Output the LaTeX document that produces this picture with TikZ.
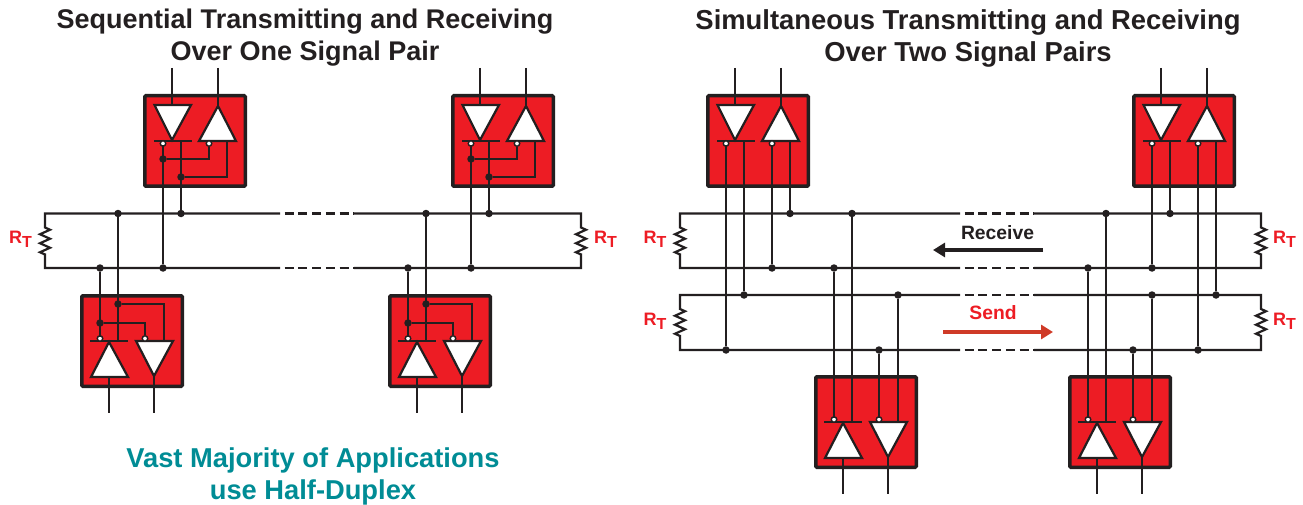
\documentclass[tikz,border=0pt]{standalone}
\usepackage{fontspec}
\setmainfont{Liberation Sans}
\usepackage{xcolor}
\usetikzlibrary{decorations.pathmorphing,arrows.meta}
\definecolor{inkblack}{HTML}{231F20}
\definecolor{boxred}{HTML}{ED1C24}
\definecolor{sendred}{HTML}{CF3A27}
\definecolor{noteteal}{HTML}{008C95}
\newcommand{\rterm}{R\raisebox{-4pt}{\fontsize{16}{16}\selectfont T}}
\tikzset{
    wire/.style={draw=inkblack,line width=2.2pt},
    busgap/.style={wire,dash pattern=on 9pt off 4.7pt,dash phase=9pt},
    xcvrbox/.style={draw=inkblack,fill=boxred,line width=3.5pt,rounded corners=1pt,minimum width=100.5pt,minimum height=90.5pt,inner sep=0pt},
    amp/.style={draw=inkblack,fill=white,line width=2.2pt,line join=miter},
    bubble/.style={draw=inkblack,fill=white,line width=1.4pt,circle,inner sep=0pt,minimum size=5.5pt},
    dot/.style={fill=inkblack,circle,inner sep=0pt,minimum size=7.5pt},
    resistor/.style={decoration={zigzag,segment length=9pt,amplitude=5pt}},
    title/.style={font=\bfseries\fontsize{27.4}{32}\selectfont,text=inkblack,align=center},
    note/.style={font=\bfseries\fontsize{27.3}{32}\selectfont,text=noteteal,align=center},
    rlabel/.style={font=\bfseries\fontsize{18}{20}\selectfont,text=boxred},
    flowlabel/.style={font=\bfseries\fontsize{19.3}{22}\selectfont},
    % pair with the bar at the bottom, lines leave upwards
    topxcvr/.pic={
        \node[xcvrbox] (-box) at (51,46) {};
        \draw[wire] (28,-27) -- (28,10);
        \draw[wire] (74,-27) -- (74,11);
        \draw[amp] (10.5,10) -- (47,10) -- (28,45) -- cycle;
        \draw[amp] (74,11) -- (55,46) -- (92,46) -- cycle;
        \draw[wire] (10,46) -- (48,46);
        \node[bubble] (-inva) at (19,48.5) {};
        \node[bubble] (-invb) at (65,48.5) {};
        \coordinate (-a) at (19,50.5);
        \coordinate (-b) at (37,46);
        \coordinate (-c) at (65,50.5);
        \coordinate (-d) at (83,46);
        \coordinate (-e) at (19,64);
        \coordinate (-f) at (37,82);
    },
    % same pair turned round, lines leave downwards
    botxcvr/.pic={
        \node[xcvrbox] (-box) at (51,46) {};
        \draw[wire] (28,82) -- (28,118);
        \draw[wire] (73,81) -- (73,118);
        \draw[amp] (28,47) -- (10,82) -- (47,82) -- cycle;
        \draw[amp] (55,46) -- (92,46) -- (73,81) -- cycle;
        \draw[wire] (9,46) -- (47,46);
        \node[bubble] (-inva) at (19,43.5) {};
        \node[bubble] (-invb) at (64,43.5) {};
        \coordinate (-a) at (19,41.5);
        \coordinate (-b) at (37,46);
        \coordinate (-c) at (64,41.5);
        \coordinate (-d) at (83,46);
        \coordinate (-e) at (19,28);
        \coordinate (-f) at (37,9);
    }
}

\begin{document}
\begin{tikzpicture}[x=1pt,y=-1pt]
    \useasboundingbox (0,0) rectangle (1303,505);
    % Titles
    \node[title,font=\bfseries\fontsize{27}{32}\selectfont] (lefttitle) at (305,38) {Sequential Transmitting and Receiving\\Over One Signal Pair};
    \node[title] (righttitle) at (968,38) {Simultaneous Transmitting and Receiving\\Over Two Signal Pairs};
    \node[note] (majority) at (313,476) {Vast Majority of Applications\\use Half-Duplex};

    % Left: bus ends
    \coordinate (lta) at (45,213.5);
    \coordinate (lba) at (45,268);
    \coordinate (ltb) at (581,213.5);
    \coordinate (lbb) at (581,268);
    \coordinate (lgapa) at (280,240);
    \coordinate (lgapb) at (354,240);
    % Left: bus lines
    \draw[wire] (lgapa |- lta) -- (lta) -- ++(0,14) decorate[resistor] {-- ++(0,27)} -- (lba) -- (lgapa |- lba);
    \draw[wire] (lgapb |- ltb) -- (ltb) -- ++(0,14) decorate[resistor] {-- ++(0,27)} -- (lbb) -- (lgapb |- lbb);
    \draw[busgap] (lgapa |- lta) -- (lgapb |- ltb);
    \draw[busgap] (lgapa |- lba) -- (lgapb |- lbb);
    \node[rlabel] (rlefta) at (20.5,239) {\rterm};
    \node[rlabel] (rleftb) at (605.5,239) {\rterm};

    % Left: transceivers
    \pic (ta) at (144,95) {topxcvr};
    \pic (tb) at (452,95) {topxcvr};
    \pic (ba) at (81,295) {botxcvr};
    \pic (bb) at (389,295) {botxcvr};
    % Left: joins inside the boxes
    \node[dot] (tae) at (ta-e) {};
    \node[dot] (taf) at (ta-f) {};
    \draw[wire] (tae) -| (ta-invb);
    \draw[wire] (taf) -| (ta-d);
    \node[dot] (tbe) at (tb-e) {};
    \node[dot] (tbf) at (tb-f) {};
    \draw[wire] (tbe) -| (tb-invb);
    \draw[wire] (tbf) -| (tb-d);
    \node[dot] (bae) at (ba-e) {};
    \node[dot] (baf) at (ba-f) {};
    \draw[wire] (bae) -| (ba-invb);
    \draw[wire] (baf) -| (ba-d);
    \node[dot] (bbe) at (bb-e) {};
    \node[dot] (bbf) at (bb-f) {};
    \draw[wire] (bbe) -| (bb-invb);
    \draw[wire] (bbf) -| (bb-d);
    % Left: down to the bus
    \node[dot] (jta) at (ta-b |- lta) {};
    \node[dot] (jtb) at (ta-a |- lba) {};
    \node[dot] (jtc) at (tb-b |- lta) {};
    \node[dot] (jtd) at (tb-a |- lba) {};
    \node[dot] (jba) at (ba-b |- lta) {};
    \node[dot] (jbb) at (ba-a |- lba) {};
    \node[dot] (jbc) at (bb-b |- lta) {};
    \node[dot] (jbd) at (bb-a |- lba) {};
    \draw[wire] (ta-b) -- (jta);
    \draw[wire] (ta-a) -- (jtb);
    \draw[wire] (tb-b) -- (jtc);
    \draw[wire] (tb-a) -- (jtd);
    \draw[wire] (ba-b) -- (jba);
    \draw[wire] (ba-a) -- (jbb);
    \draw[wire] (bb-b) -- (jbc);
    \draw[wire] (bb-a) -- (jbd);

    % Right: bus ends
    \coordinate (rxa) at (680,213.5);
    \coordinate (rxb) at (680,268);
    \coordinate (txa) at (680,295);
    \coordinate (txb) at (680,350);
    \coordinate (rxc) at (1261,213.5);
    \coordinate (rxd) at (1261,268);
    \coordinate (txc) at (1261,295);
    \coordinate (txd) at (1261,350);
    \coordinate (rgapa) at (960,280);
    \coordinate (rgapb) at (1034,280);
    % Right: bus lines
    \draw[wire] (rgapa |- rxa) -- (rxa) -- ++(0,14) decorate[resistor] {-- ++(0,27)} -- (rxb) -- (rgapa |- rxb);
    \draw[wire] (rgapb |- rxc) -- (rxc) -- ++(0,14) decorate[resistor] {-- ++(0,27)} -- (rxd) -- (rgapb |- rxd);
    \draw[wire] (rgapa |- txa) -- (txa) -- ++(0,14) decorate[resistor] {-- ++(0,27)} -- (txb) -- (rgapa |- txb);
    \draw[wire] (rgapb |- txc) -- (txc) -- ++(0,14) decorate[resistor] {-- ++(0,27)} -- (txd) -- (rgapb |- txd);
    \draw[busgap] (rgapa |- rxa) -- (rgapb |- rxc);
    \draw[busgap] (rgapa |- rxb) -- (rgapb |- rxd);
    \draw[busgap] (rgapa |- txa) -- (rgapb |- txc);
    \draw[busgap] (rgapa |- txb) -- (rgapb |- txd);
    \node[rlabel] (rxlefta) at (655,239) {\rterm};
    \node[rlabel] (txlefta) at (655,321) {\rterm};
    \node[rlabel] (rxrighta) at (1284.5,239) {\rterm};
    \node[rlabel] (txrighta) at (1284.5,321) {\rterm};

    % Right: transceivers
    \pic (tc) at (707,95) {topxcvr};
    \pic (td) at (1133,95) {topxcvr};
    \pic (bc) at (815,376) {botxcvr};
    \pic (bd) at (1069,376) {botxcvr};
    % Right: down to the buses
    \node[dot] (jca) at (tc-d |- rxa) {};
    \node[dot] (jcb) at (tc-c |- rxb) {};
    \node[dot] (jcc) at (tc-b |- txa) {};
    \node[dot] (jcd) at (tc-a |- txb) {};
    \node[dot] (jda) at (td-b |- rxa) {};
    \node[dot] (jdb) at (td-a |- rxb) {};
    \node[dot] (jdc) at (td-d |- txa) {};
    \node[dot] (jdd) at (td-c |- txb) {};
    \node[dot] (jea) at (bc-b |- rxa) {};
    \node[dot] (jeb) at (bc-a |- rxb) {};
    \node[dot] (jec) at (bc-d |- txa) {};
    \node[dot] (jed) at (bc-c |- txb) {};
    \node[dot] (jfa) at (bd-b |- rxa) {};
    \node[dot] (jfb) at (bd-a |- rxb) {};
    \node[dot] (jfc) at (bd-d |- txa) {};
    \node[dot] (jfd) at (bd-c |- txb) {};
    \draw[wire] (tc-d) -- (jca);
    \draw[wire] (tc-c) -- (jcb);
    \draw[wire] (tc-b) -- (jcc);
    \draw[wire] (tc-a) -- (jcd);
    \draw[wire] (td-b) -- (jda);
    \draw[wire] (td-a) -- (jdb);
    \draw[wire] (td-d) -- (jdc);
    \draw[wire] (td-c) -- (jdd);
    \draw[wire] (bc-b) -- (jea);
    \draw[wire] (bc-a) -- (jeb);
    \draw[wire] (bc-d) -- (jec);
    \draw[wire] (bc-c) -- (jed);
    \draw[wire] (bd-b) -- (jfa);
    \draw[wire] (bd-a) -- (jfb);
    \draw[wire] (bd-d) -- (jfc);
    \draw[wire] (bd-c) -- (jfd);

    % Direction arrows
    \node[flowlabel,text=inkblack] (receive) at (997.5,233) {Receive};
    \node[flowlabel,text=boxred] (send) at (993,313) {Send};
    \coordinate (rxfrom) at (1043,250);
    \coordinate (rxto) at (933,250);
    \coordinate (txfrom) at (943,332);
    \coordinate (txto) at (1053,332);
    \draw[-{Triangle[length=12pt,width=14pt]},draw=inkblack,fill=inkblack,line width=3.5pt] (rxfrom) -- (rxto);
    \draw[-{Triangle[length=12pt,width=14pt]},draw=sendred,fill=sendred,line width=3.5pt] (txfrom) -- (txto);
\end{tikzpicture}
\end{document}
